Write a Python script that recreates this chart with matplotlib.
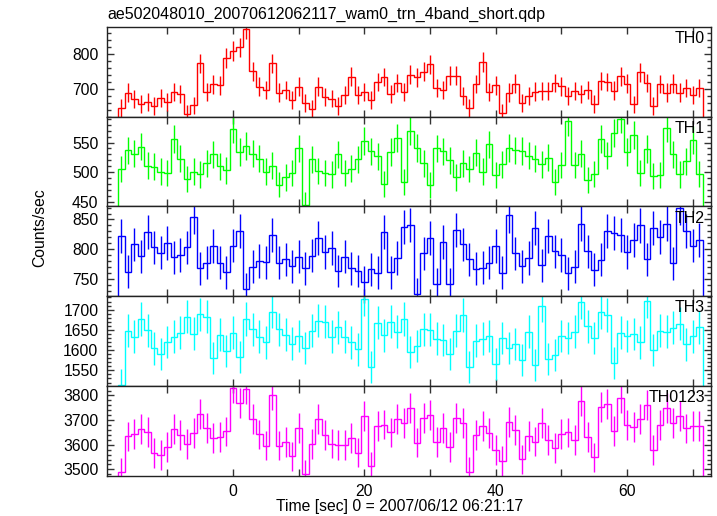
import numpy as np
import matplotlib
matplotlib.use('Agg')
import matplotlib.pyplot as plt
from matplotlib.ticker import MultipleLocator, FuncFormatter

plt.rcParams['font.family'] = ['Liberation Sans', 'DejaVu Sans']

title = 'ae502048010_20070612062117_wam0_trn_4band_short.qdp'

# time bins (1 s wide), centers in seconds
t_first = -17
n_bins = 89

th0 = [644, 689, 671, 656, 663, 650, 673, 663, 691, 685, 627, 652, 773, 691, 713, 710,
       789, 809, 819, 872, 750, 706, 697, 773, 689, 697, 667, 706, 659, 642, 706, 675,
       672, 650, 682, 735, 681, 691, 667, 720, 734, 686, 717,
       690, 741, 733, 749, 770, 703, 697, 738, 738, 680, 644, 714, 777, 690, 710, 631,
       689, 715, 659, 680, 692, 693, 693, 717, 707, 680, 694, 686, 696, 657, 722, 719,
       695, 736, 715, 655, 748, 717, 650, 714, 689, 715, 689, 703, 683, 703]

th1 = [505, 537, 531, 543, 511, 509, 501, 499, 556, 523, 488, 501, 496, 515, 530, 510,
       503, 573, 534, 544, 531, 523, 501, 511, 479, 491, 499, 540, 445, 522, 502, 498,
       496, 530, 498, 506, 522, 552, 535, 527, 480, 534, 558,
       483, 570, 541, 515, 478, 540, 535, 520, 491, 515, 505, 533, 501, 547, 495, 513,
       541, 537, 536, 528, 523, 513, 524, 484, 512, 586, 512, 531, 486, 497, 556, 528,
       566, 590, 534, 562, 499, 539, 493, 495, 575, 530, 496, 518, 554, 497]

th2 = [822, 762, 808, 788, 829, 803, 794, 810, 786, 790, 803, 854, 768, 777, 805, 777,
       761, 806, 831, 733, 770, 780, 778, 823, 777, 783, 771, 787, 768, 789, 819, 795,
       802, 763, 787, 768, 763, 745, 766, 760, 829, 761, 785,
       837, 841, 724, 793, 819, 741, 812, 741, 832, 808, 783, 767, 769, 777, 805, 760,
       857, 793, 771, 785, 835, 773, 822, 796, 790, 759, 770, 843, 796, 765, 782, 830,
       827, 824, 795, 815, 840, 783, 835, 820, 843, 776, 870, 830, 806, 815]

th3 = [1515, 1648, 1633, 1677, 1649, 1604, 1591, 1620, 1633, 1643, 1683, 1641, 1688, 1683,
       1580, 1638, 1598, 1643, 1583, 1677, 1652, 1633, 1619, 1695, 1652, 1638, 1616, 1635,
       1605, 1648, 1673, 1670, 1633, 1657, 1633, 1619, 1602, 1727, 1558, 1668, 1637, 1670,
       1645,
       1677, 1595, 1610, 1652, 1650, 1628, 1625, 1591, 1648, 1687, 1558, 1623, 1628, 1635,
       1565, 1630, 1605, 1615, 1576, 1645, 1562, 1710, 1578, 1588, 1635, 1630, 1645, 1719,
       1659, 1630, 1693, 1687, 1567, 1643, 1635, 1640, 1619, 1721, 1600, 1648, 1645, 1655,
       1665, 1614, 1634, 1657]

th0123 = [3488, 3634, 3644, 3663, 3651, 3566, 3558, 3591, 3663, 3639, 3602, 3648, 3726,
          3667, 3627, 3632, 3654, 3830, 3769, 3826, 3704, 3642, 3596, 3804, 3596, 3612,
          3553, 3667, 3480, 3604, 3703, 3640, 3605, 3600, 3600, 3627, 3568, 3716, 3513,
          3676, 3682, 3650, 3704,
          3688, 3749, 3609, 3708, 3719, 3612, 3667, 3590, 3710, 3689, 3491, 3639, 3677,
          3647, 3578, 3534, 3693, 3659, 3541, 3635, 3613, 3688, 3619, 3586, 3644, 3650,
          3619, 3779, 3632, 3549, 3752, 3765, 3655, 3790, 3680, 3673, 3705, 3761, 3578,
          3680, 3749, 3688, 3718, 3666, 3676, 3676]

names = ['TH0', 'TH1', 'TH2', 'TH3', 'TH0123']
series = [th0, th1, th2, th3, th0123]
colors = ['#ff0000', '#00ff00', '#0000ff', '#00ffff', '#ff00ff']
ylims = [(620, 879), (442, 594), (720.5, 872), (1511, 1733), (3473, 3838)]
ymajor = [100, 50, 50, 50, 100]
yminor = [20, 10, 10, 10, 20]

t = t_first + np.arange(n_bins)
edges = np.append(t - 0.5, t[-1] + 0.5)

fig, axes = plt.subplots(5, 1, figsize=(7.17, 5.16), dpi=100, sharex=True)
fig.subplots_adjust(left=0.149, right=0.992, top=0.9483, bottom=0.0775, hspace=0)

for ax, name, vals, col, yl, ma, mi in zip(axes, names, series, colors, ylims, ymajor, yminor):
    vals = np.array(vals, dtype=float)
    err = np.sqrt(vals)  # poisson errors, 1 s bins
    ax.stairs(vals, edges, color=col, lw=1.0)
    ax.vlines(t, vals - err, vals + err, color=col, lw=1.0)
    ax.set_ylim(*yl)
    ax.set_xlim(-19.2, 72.8)
    ax.yaxis.set_major_locator(MultipleLocator(ma))
    ax.yaxis.set_minor_locator(MultipleLocator(mi))
    ax.xaxis.set_major_locator(MultipleLocator(10))
    ax.tick_params(which='both', direction='in', top=True, right=True, labelsize=11.3,
                   width=1.0, color='#333333')
    ax.tick_params(which='major', length=5, pad=6)
    ax.tick_params(which='minor', length=3)
    for s in ax.spines.values():
        s.set_linewidth(1.0)
        s.set_color('#222222')
    ax.annotate(name, xy=(1, 1), xycoords='axes fraction', xytext=(-4.5, -3),
                textcoords='offset points', ha='right', va='top', fontsize=11.5)

axes[-1].xaxis.set_major_formatter(FuncFormatter(lambda v, p: '%d' % v if round(v) % 20 == 0 else ''))

fig.text(107 / 717, 1 - 14 / 516, title, ha='left', va='center', fontsize=11.5)
fig.text(40 / 717, 1 - 228 / 516, 'Counts/sec', rotation=90, ha='center', va='center', fontsize=11.3)
fig.text(400 / 717, 1 - 507 / 516, 'Time [sec] 0 = 2007/06/12 06:21:17', ha='center', va='center',
         fontsize=11.3)

fig.savefig('out.png', dpi=100)
